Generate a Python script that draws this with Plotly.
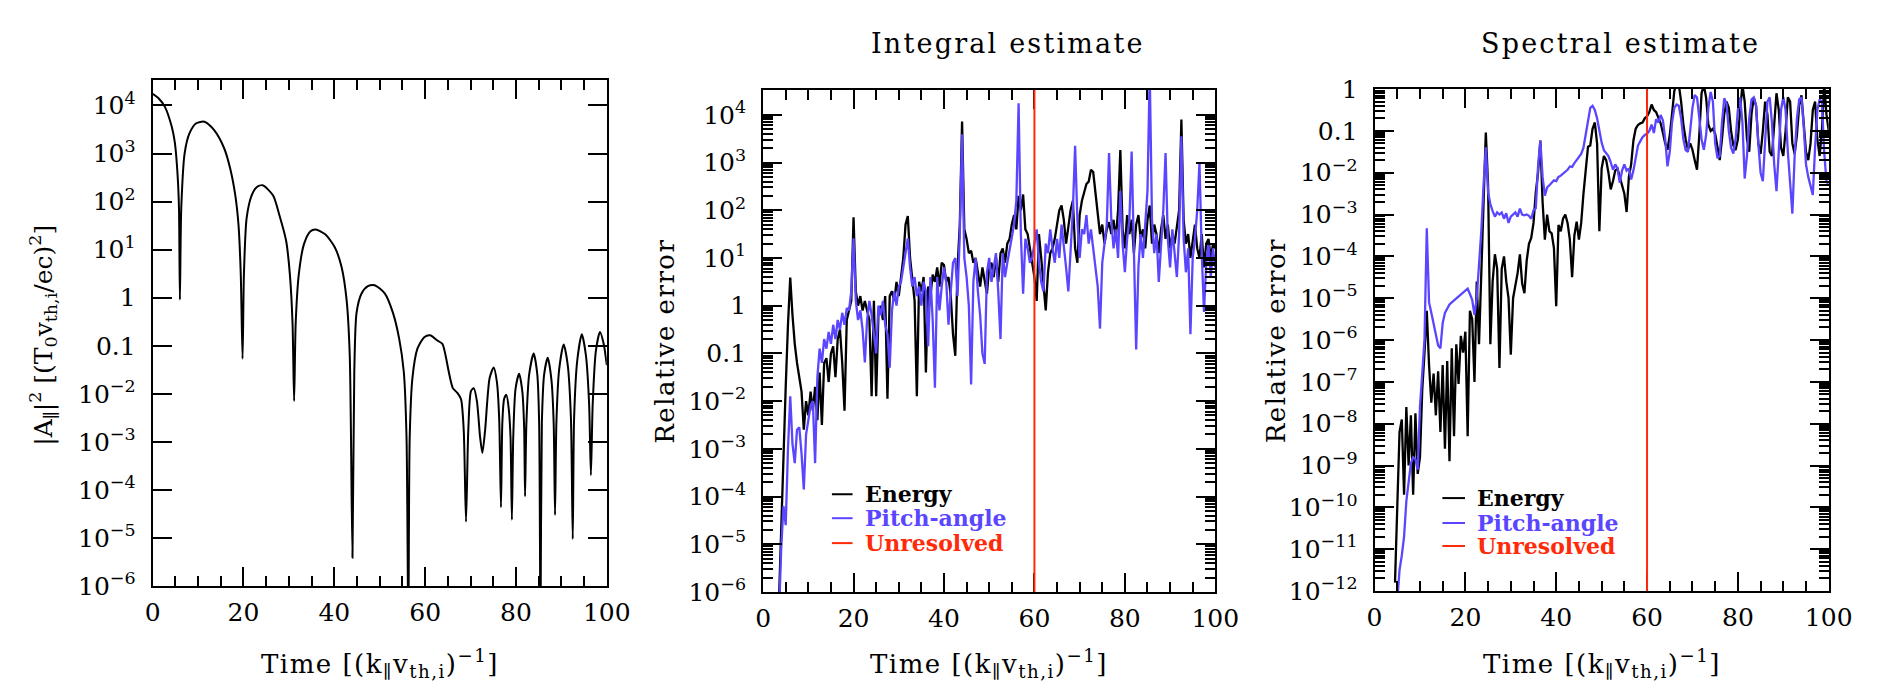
import plotly.graph_objects as go

W, H = 1886, 689
FONT = "DejaVu Serif"
BLUE = "#5a46ff"
RED = "#ff2a0a"

# ---------------------------------------------------------------
# left panel: |A_par|^2 against time (log10 of the value)
t_apar = [0.0, 1.3, 2.7, 4.2, 4.9, 5.5, 5.8, 6.0, 6.3, 7.05, 8.1, 9.6, 11.4,
          13.5, 15.7, 17.1, 18.2, 18.9, 19.4, 19.8, 20.1, 20.7, 21.8, 22.9, 24.2,
          26.5, 27.9, 29.4, 30.2, 30.8, 31.15, 31.5, 32.2, 33.3, 34.7, 35.9,
          38.0, 40.1, 41.6, 42.7, 43.4, 44.0, 44.4, 44.9, 46.0, 47.4, 48.9,
          51.1, 52.9, 54.3, 55.3, 55.9, 56.3, 56.6, 57.2, 58.3, 59.8, 61.1,
          62.7, 63.8, 64.5, 65.2, 66.1, 67.1, 67.9, 68.5, 69.0, 69.5, 70.1, 70.7,
          71.4, 72.1, 72.6, 73.2, 74.2, 75.1, 75.8, 76.3, 76.7, 77.0, 77.4, 77.9,
          78.4, 78.8, 79.1, 79.4, 79.9, 80.7, 81.4, 81.8, 82.0, 82.3, 82.9, 83.9,
          84.7, 85.1, 85.4, 85.7, 86.2, 87.0, 87.8, 88.3, 88.6, 88.9, 89.5, 90.5,
          91.4, 92.1, 92.5, 92.8, 93.5, 94.5, 95.4, 96.1, 96.5, 96.9, 97.6, 98.5,
          99.3, 100.0]
log_apar = [4.24, 4.15, 3.97, 3.56, 3.22, 2.54, 1.86, -0.04, 1.86, 3.01, 3.42, 3.63, 3.66,
            3.49, 3.12, 2.68, 2.13, 1.52, 0.5, -1.27, 0.5, 1.66, 2.13, 2.30, 2.34,
            2.13, 1.72, 1.18, 0.5, -0.52, -2.15, -0.52, 0.5, 1.11, 1.38, 1.42,
            1.32, 1.05, 0.64, -0.04, -1.2, -5.41, -1.54, -0.31, 0.09, 0.24, 0.26,
            0.09, -0.31, -0.86, -1.54, -2.9, -7.0, -2.9, -1.67, -1.06, -0.82, -0.78,
            -0.89, -0.96, -1.2, -1.54, -1.88, -1.98, -2.11, -2.76, -4.66, -2.76, -1.94, -1.88,
            -2.15, -2.9, -3.23, -2.76, -1.67, -1.45, -1.75, -2.5, -4.36, -2.6, -2.1, -2.02,
            -2.3, -2.9, -4.62, -2.9, -1.9, -1.58, -1.95, -2.7, -4.13, -2.6, -1.6, -1.16,
            -1.6, -2.6, -7.0, -2.6, -1.6, -1.25, -1.7, -2.6, -4.52, -2.6, -1.5, -0.97,
            -1.4, -2.5, -5.02, -2.5, -1.3, -0.76, -1.2, -2.2, -3.69, -2.2, -1.1, -0.71,
            -0.95, -1.4]

# ---------------------------------------------------------------
# middle panel: integral estimate of the relative error (log10)
t_int = [3.5, 4.0, 4.5, 5.0, 5.5, 6.0, 6.5, 7.0, 7.5, 8.0,
         8.5, 9.0, 9.5, 10.0, 10.5, 11.0, 11.5, 12.0, 12.5, 13.0,
         13.5, 14.0, 14.5, 15.0, 15.5, 16.0, 16.5, 17.0, 17.5, 18.0,
         18.5, 19.0, 19.5, 20.0, 20.5, 21.0, 21.5, 22.0, 22.5, 23.0,
         23.5, 24.0, 24.5, 25.0, 25.5, 26.0, 26.5, 27.0, 27.5, 28.0,
         28.5, 29.0, 29.5, 30.0, 30.5, 31.0, 31.5, 32.0, 32.5, 33.0,
         33.5, 34.0, 34.5, 35.0, 35.5, 36.0, 36.5, 37.0, 37.5, 38.0,
         38.5, 39.0, 39.5, 40.0, 40.5, 41.0, 41.5, 42.0, 42.5, 43.0,
         43.5, 44.0, 44.5, 45.0, 45.5, 46.0, 46.5, 47.0, 47.5, 48.0,
         48.5, 49.0, 49.5, 50.0, 50.5, 51.0, 51.5, 52.0, 52.5, 53.0,
         53.5, 54.0, 54.5, 55.0, 55.5, 56.0, 56.5, 57.0, 57.5, 58.0,
         58.5, 59.0, 59.5, 60.0, 60.5, 61.0, 61.5, 62.0, 62.5, 63.0,
         63.5, 64.0, 64.5, 65.0, 65.5, 66.0, 66.5, 67.0, 67.5, 68.0,
         68.5, 69.0, 69.5, 70.0, 70.5, 71.0, 71.5, 72.0, 72.5, 73.0,
         73.5, 74.0, 74.5, 75.0, 75.5, 76.0, 76.5, 77.0, 77.5, 78.0,
         78.5, 79.0, 79.5, 80.0, 80.5, 81.0, 81.5, 82.0, 82.5, 83.0,
         83.5, 84.0, 84.5, 85.0, 85.5, 86.0, 86.5, 87.0, 87.5, 88.0,
         88.5, 89.0, 89.5, 90.0, 90.5, 91.0, 91.5, 92.0, 92.5, 93.0,
         93.5, 94.0, 94.5, 95.0, 95.5, 96.0, 96.5, 97.0, 97.5, 98.0,
         98.5, 99.0, 99.5, 100.0]
log_int_energy = [-6.2, -4.6, -3.1, -1.7, -0.4, 0.59, -0.2, -0.8, -1.2, -1.5,
                  -1.8, -2.6, -2.0, -2.3, -1.8, -2.2, -1.7, -2.4, -1.4, -2.5,
                  -1.2, -1.1, -1.6, -1.0, -0.85, -1.5, -0.7, -0.5, -1.2, -2.2,
                  -0.3, -0.1, 0.1, 1.85, 0.3, 0.0, 0.2, -0.1, 0.1, -0.1,
                  -0.3, -1.9, 0.1, -1.9, -0.2, 0.0, -0.3, 0.2, -1.95, 0.2,
                  0.3, 0.1, 0.5, 0.2, 0.6, 1.0, 1.7, 1.88, 1.0, 0.6,
                  0.1, -1.9, 0.5, 0.3, 0.6, -1.4, 0.4, 0.2, 0.65, 0.5,
                  0.8, 0.4, 0.9, 0.85, 0.5, 0.6, 0.2, -0.6, -1.05, 0.8,
                  1.7, 3.86, 1.6, 1.4, 1.1, 1.15, 0.9, 1.0, 0.7, 0.4,
                  0.8, 0.5, 0.25, 0.8, 0.9, 0.6, 1.0, 0.5, 1.1, 1.2,
                  0.9, 1.3, 1.4, 1.7, 1.9, 1.6, 2.3, 2.0, 2.33, 1.6,
                  1.5, 1.2, 0.9, 0.6, 0.1, 1.5, 1.0, 0.5, -0.1, 0.7,
                  1.1, 1.2, 1.4, 1.7, 2.0, 2.1, 1.8, 1.3, 1.7, 2.0,
                  2.2, 1.2, 0.9, 1.9, 2.2, 2.4, 2.55, 2.6, 2.85, 2.8,
                  2.4, 1.9, 1.5, 1.7, 1.3, 1.6, 1.75, 1.5, 1.8, 1.4,
                  2.0, 3.26, 1.6, 1.2, 1.9, 1.5, 1.8, 1.1, 1.7, 1.9,
                  1.4, 1.6, 1.2, 1.8, 2.1, 1.3, 1.7, 1.5, 1.1, 1.6,
                  1.9, 1.4, 1.7, 1.2, 1.5, 1.3, 1.6, 2.0, 3.9, 1.8,
                  1.3, 1.5, 1.0, 1.4, 1.7, 1.2, 1.0, 1.5, 0.8, 1.3,
                  1.4, 1.0, 1.3, 1.2]
log_int_pitch = [-6.5, -5.1, -4.2, -4.6, -3.0, -1.9, -2.9, -3.3, -2.6, -2.55,
                 -3.1, -3.85, -2.7, -2.4, -2.1, -2.0, -3.3, -1.5, -0.9, -1.2,
                 -0.7, -0.9, -0.55, -0.8, -0.4, -0.7, -0.3, -0.5, -0.15, -0.4,
                 -0.05, -0.1, 0.3, 1.41, 0.1, -0.3, -0.1, -0.5, -1.19, -0.3,
                 0.1, -0.2, -0.6, -1.0, 0.0, -0.2, 0.1, -0.4, -0.6, -1.3,
                 -0.1, 0.3, 0.0, 0.4, 0.5, 0.8, 1.2, 1.41, 0.8, 0.4,
                 0.6, 0.2, 0.4, 0.0, 0.5, 0.3, -0.85, 0.6, -0.3, -1.72,
                 0.6, -0.1, 0.4, 0.8, 0.5, -0.4, 0.3, 0.9, 1.0, 0.2,
                 1.5, 3.59, 1.0, 0.6, 0.0, -1.65, 0.5, 1.0, 0.3, -0.2,
                 -1.0, -1.22, 0.7, 1.0, 0.5, 0.8, 1.1, 0.3, -0.7, 1.1,
                 0.6, 0.9, 1.2, 1.5, 1.7, 2.2, 4.24, 1.5, 0.25, 1.4,
                 1.2, 0.9, 1.0, 1.3, 1.6, 0.9, 0.5, 0.3, 1.3, 1.1,
                 1.6, 1.2, 0.9, 1.4, 1.0, 1.7, 1.3, 0.8, 0.3, 1.2,
                 2.0, 3.35, 1.8, 1.0, 1.6, 1.5, 1.9, 1.3, 1.6, 1.2,
                 0.8, 0.4, -0.48, 0.9, 1.3, 1.7, 3.2, 1.8, 1.2, 1.6,
                 1.0, 2.4, 1.3, 0.7, 1.4, 1.8, 3.23, 1.2, -0.92, 0.8,
                 1.5, 1.0, 1.8, 2.4, 4.9, 1.8, 1.1, 1.5, 0.5, 1.3,
                 2.0, 3.2, 1.4, 0.8, 1.6, 1.1, 0.6, 1.5, 3.55, 1.4,
                 0.7, 1.2, -0.6, 1.0, 1.4, 2.0, 3.0, 1.1, -0.13, 0.9,
                 1.3, 0.6, 1.2, 0.8]

# ---------------------------------------------------------------
# right panel: spectral estimate of the relative error (log10)
t_spec = [4.5, 5.0, 5.5, 6.0, 6.5, 7.0, 7.5, 8.0, 8.5, 9.0,
          9.5, 10.0, 10.5, 11.0, 11.5, 12.0, 12.5, 13.0, 13.5, 14.0,
          14.5, 15.0, 15.5, 16.0, 16.5, 17.0, 17.5, 18.0, 18.5, 19.0,
          19.5, 20.0, 20.5, 21.0, 21.5, 22.0, 22.5, 23.0, 23.5, 24.0,
          24.5, 25.0, 25.5, 26.0, 26.5, 27.0, 27.5, 28.0, 28.5, 29.0,
          29.5, 30.0, 30.5, 31.0, 31.5, 32.0, 32.5, 33.0, 33.5, 34.0,
          34.5, 35.0, 35.5, 36.0, 36.5, 37.0, 37.5, 38.0, 38.5, 39.0,
          39.5, 40.0, 40.5, 41.0, 41.5, 42.0, 42.5, 43.0, 43.5, 44.0,
          44.5, 45.0, 45.5, 46.0, 46.5, 47.0, 47.5, 48.0, 48.5, 49.0,
          49.5, 50.0, 50.5, 51.0, 51.5, 52.0, 52.5, 53.0, 53.5, 54.0,
          54.5, 55.0, 55.5, 56.0, 56.5, 57.0, 57.5, 58.0, 58.5, 59.0,
          59.5, 60.0, 60.5, 61.0, 61.5, 62.0, 62.5, 63.0, 63.5, 64.0,
          64.5, 65.0, 65.5, 66.0, 66.5, 67.0, 67.5, 68.0, 68.5, 69.0,
          69.5, 70.0, 70.5, 71.0, 71.5, 72.0, 72.5, 73.0, 73.5, 74.0,
          74.5, 75.0, 75.5, 76.0, 76.5, 77.0, 77.5, 78.0, 78.5, 79.0,
          79.5, 80.0, 80.5, 81.0, 81.5, 82.0, 82.5, 83.0, 83.5, 84.0,
          84.5, 85.0, 85.5, 86.0, 86.5, 87.0, 87.5, 88.0, 88.5, 89.0,
          89.5, 90.0, 90.5, 91.0, 91.5, 92.0, 92.5, 93.0, 93.5, 94.0,
          94.5, 95.0, 95.5, 96.0, 96.5, 97.0, 97.5, 98.0, 98.5, 99.0,
          99.5, 100.0]
log_spec_energy = [-11.8, -9.9, -8.2, -7.9, -9.7, -7.6, -9.0, -7.8, -9.7, -7.75,
                   -9.2, -8.8, -7.2, -6.3, -5.3, -6.6, -7.5, -6.8, -7.8, -6.75,
                   -8.2, -6.6, -8.6, -6.5, -8.9, -6.2, -8.3, -6.1, -7.05, -5.9,
                   -6.3, -5.8, -8.3, -5.3, -5.5, -7.0, -4.6, -6.1, -4.4, -2.9,
                   -1.04, -2.3, -6.1, -4.6, -3.95, -4.3, -6.67, -4.3, -4.0, -4.6,
                   -5.0, -6.35, -5.0, -4.7, -4.4, -3.95, -4.65, -4.88, -4.1, -3.7,
                   -3.56, -3.2, -2.47, -2.0, -1.23, -2.7, -3.6, -3.0, -3.4, -3.45,
                   -3.8, -5.19, -3.25, -3.4, -3.1, -3.0, -3.2, -3.6, -4.5, -3.5,
                   -3.17, -3.6, -3.2, -2.5, -1.85, -1.38, -1.35, -0.95, -0.8, -1.3,
                   -3.4, -1.9, -1.6, -1.7, -2.0, -2.4, -2.2, -1.95, -1.9, -2.1,
                   -2.3, -2.5, -2.94, -2.1, -1.8, -1.23, -0.95, -0.86, -0.82, -0.8,
                   -0.7, -0.65, -0.55, -0.37, -0.5, -0.55, -0.69, -0.82, -1.05, -1.3,
                   -1.45, -1.1, -0.6, -0.05, 0.15, 0.1, -0.3, -0.85, -1.2, -1.45,
                   -1.3, -1.45, -1.7, -1.93, -1.1, -0.1, 0.1, -0.2, -0.85, -1.0,
                   -0.95, -1.07, -1.38, -1.7, -1.2, -0.6, -0.3, -0.45, -1.0, -1.35,
                   -1.46, -1.2, -0.5, 0.1, -0.3, -1.2, -1.5, -0.6, -0.2, -0.4,
                   -1.3, -1.55, -1.0, -0.3, -0.6, -1.5, -1.6, -0.8, -0.1, -0.5,
                   -1.4, -1.6, -1.0, -0.2, -0.3, -1.3, -1.55, -1.1, -0.4, -0.15,
                   -0.8, -1.5, -1.7, -1.3, -0.5, -0.3, -1.2, -1.6, -1.0, 0.1,
                   -0.6, -1.0]
log_spec_pitch = [-13.0, -12.3, -11.5, -11.15, -10.7, -9.85, -9.4, -8.95, -8.8, -8.85,
                  -9.1, -7.6, -6.8, -5.97, -3.33, -5.1, -5.35, -5.6, -5.85, -6.13,
                  -6.2, -5.6, -5.35, -5.25, -5.15, -5.1, -5.05, -5.0, -4.95, -4.9,
                  -4.85, -4.8, -4.77, -4.9, -5.04, -5.4, -5.0, -4.2, -3.4, -2.3,
                  -1.39, -2.47, -2.75, -2.92, -3.05, -2.95, -3.0, -2.95, -3.1, -2.97,
                  -3.2, -3.05, -3.0, -2.95, -3.05, -2.86, -3.0, -3.02, -3.0, -3.03,
                  -3.1, -2.9, -2.85, -1.85, -1.23, -2.1, -2.55, -2.35, -2.3, -2.25,
                  -2.18, -2.2, -2.1, -2.07, -2.02, -1.98, -1.93, -1.85, -1.86, -1.77,
                  -1.7, -1.63, -1.55, -1.4, -1.1, -0.8, -0.45, -0.4, -0.5, -0.7,
                  -1.0, -1.28, -1.46, -1.54, -1.6, -1.75, -1.93, -1.8, -1.9, -2.24,
                  -1.95, -1.8, -1.95, -1.9, -2.16, -1.95, -1.6, -1.35, -1.25, -1.15,
                  -1.1, -1.07, -1.0, -0.85, -1.05, -0.72, -0.8, -0.62, -0.75, -1.2,
                  -1.85, -1.5, -0.8, -0.45, -0.37, -0.4, -0.7, -1.2, -1.46, -1.5,
                  -1.0, -0.45, -0.14, -0.2, -0.69, -1.2, -1.45, -1.1, -0.45, -0.07,
                  -0.3, -1.3, -1.65, -1.6, -0.8, -0.22, -0.35, -1.0, -1.4, -1.54,
                  -1.2, -0.5, -0.2, -0.8, -2.14, -1.6, -0.7, -0.25, -0.2, -0.4,
                  -1.3, -2.0, -2.2, -1.2, -0.3, -0.2, -0.8, -1.8, -2.44, -1.5,
                  -0.5, -0.19, -0.5, -1.5, -2.3, -2.98, -1.6, -0.7, -0.25, -0.2,
                  -0.9, -1.8, -2.1, -2.3, -2.53, -1.4, -0.5, -0.25, -0.3, -1.5,
                  -2.2, -2.3]

unresolved_t = 60

# tick labels
def power_label(e):
    if e == 0:
        return "1"
    if e == -1:
        return "0.1"
    return "10<sup>%s</sup>" % str(e).replace("-", "\u2212")

exp_int = list(range(-6, 5))
exp_spec = list(range(-12, 1))


def px_x(x):
    return x / W


def px_y(y):
    return 1 - y / H


def spaced(txt, sp):
    # widen the lettering a little, like the plotting-package font of the original
    return "<span style='letter-spacing:%gpx'>%s</span>" % (sp, txt)


tick_font = dict(family=FONT, size=25, color="black")


def time_axis(domain, anchor):
    return dict(domain=domain, anchor=anchor, range=[0, 100],
                tickmode="array", tickvals=[0, 20, 40, 60, 80, 100],
                ticks="inside", ticklen=19, tickwidth=2, tickcolor="black",
                minor=dict(tickmode="linear", tick0=0, dtick=5, ticks="inside",
                           ticklen=10, tickwidth=2, tickcolor="black", showgrid=False),
                mirror="allticks", showline=True, linewidth=2, linecolor="black",
                showgrid=False, zeroline=False, tickfont=tick_font,
                ticklabelstandoff=3)


def log_axis(domain, anchor, exps, top, minor=True):
    ax = dict(domain=domain, anchor=anchor, type="log", range=[exps[0], top],
              tickmode="array", tickvals=[10.0 ** e for e in exps],
              ticktext=[power_label(e) for e in exps],
              ticks="inside", ticklen=19, tickwidth=2, tickcolor="black",
              mirror="allticks", showline=True, linewidth=2, linecolor="black",
              showgrid=False, zeroline=False, tickfont=tick_font,
              ticklabelstandoff=10)
    if minor:
        ax["minor"] = dict(tickmode="array",
                           tickvals=[m * 10.0 ** e for e in exps[:-1] for m in range(2, 10)],
                           ticks="inside", ticklen=10, tickwidth=1.5,
                           tickcolor="black", showgrid=False)
    return ax


fig = go.Figure()

fig.add_trace(go.Scatter(x=t_apar, y=[10 ** v for v in log_apar], mode="lines",
                         line=dict(color="black", width=2, shape="spline", smoothing=0.7),
                         xaxis="x", yaxis="y", showlegend=False))

fig.add_trace(go.Scatter(x=t_int, y=[10 ** v for v in log_int_energy], mode="lines",
                         line=dict(color="black", width=2.3), xaxis="x2", yaxis="y2",
                         showlegend=False))
fig.add_trace(go.Scatter(x=t_int, y=[10 ** v for v in log_int_pitch], mode="lines",
                         line=dict(color=BLUE, width=2.3), xaxis="x2", yaxis="y2",
                         showlegend=False))

fig.add_trace(go.Scatter(x=t_spec, y=[10 ** v for v in log_spec_energy], mode="lines",
                         line=dict(color="black", width=2.3), xaxis="x3", yaxis="y3",
                         showlegend=False))
fig.add_trace(go.Scatter(x=t_spec, y=[10 ** v for v in log_spec_pitch], mode="lines",
                         line=dict(color=BLUE, width=2.3), xaxis="x3", yaxis="y3",
                         showlegend=False))

# panel frames in pixels: (left, right, top, bottom)
p1 = (139, 601, 61, 589)
p2 = (760, 1220, 71, 595)
p3 = (1382, 1844, 70, 594)


def xdom(p):
    return [px_x(p[0]), px_x(p[1])]


def ydom(p):
    return [px_y(p[3]), px_y(p[2])]


fig.update_layout(
    width=W, height=H,
    margin=dict(l=0, r=0, t=0, b=0),
    paper_bgcolor="white", plot_bgcolor="white",
    font=dict(family=FONT, color="black"),
    xaxis=time_axis(xdom(p1), "y"),
    yaxis=log_axis(ydom(p1), "x", exp_int, 4.52, minor=False),
    xaxis2=time_axis(xdom(p2), "y2"),
    yaxis2=log_axis(ydom(p2), "x2", exp_int, 4.52),
    xaxis3=time_axis(xdom(p3), "y3"),
    yaxis3=log_axis(ydom(p3), "x3", exp_spec, 0),
)

shapes = []
for xr, yr in (("x2", "y2 domain"), ("x3", "y3 domain")):
    shapes.append(dict(type="line", xref=xr, yref=yr, x0=unresolved_t, x1=unresolved_t,
                       y0=0, y1=1, line=dict(color=RED, width=2), layer="above"))

annotations = []
time_title = spaced("Time [(k<sub>\u2225</sub>v<sub>th,i</sub>)<sup>\u22121</sup>]", 1.5)
for p in (p1, p2, p3):
    annotations.append(dict(text=time_title, xref="paper", yref="paper",
                            x=px_x((p[0] + p[1]) / 2), y=px_y(670),
                            xanchor="center", yanchor="middle", showarrow=False,
                            font=dict(family=FONT, size=26, color="black")))

annotations.append(dict(text="|A<sub>\u2225</sub>|<sup>2</sup> [(T<sub>0</sub>v<sub>th,i</sub>/ec)<sup>2</sup>]",
                        xref="paper", yref="paper", x=px_x(28), y=px_y(327),
                        xanchor="center", yanchor="middle", textangle=-90,
                        showarrow=False, font=dict(family=FONT, size=25, color="black")))
for xc in (660, 1282):
    annotations.append(dict(text=spaced("Relative error", 1.5), xref="paper", yref="paper",
                            x=px_x(xc), y=px_y(333), xanchor="center", yanchor="middle",
                            textangle=-90, showarrow=False,
                            font=dict(family=FONT, size=26, color="black")))

for txt, xc in (("Integral estimate", 1009), ("Spectral estimate", 1632)):
    annotations.append(dict(text=spaced(txt, 2.2), xref="paper", yref="paper",
                            x=px_x(xc), y=px_y(22),
                            xanchor="center", yanchor="middle", showarrow=False,
                            font=dict(family=FONT, size=27, color="black")))

# hand-drawn legends (line sample + coloured label)
legend_items = [("Energy", "black"), ("Pitch-angle", BLUE), ("Unresolved", RED)]
for x0, x1, xt, rows in ((830, 851, 862, (493, 518, 544)),
                         (1451, 1474, 1484, (497, 523, 547))):
    for (label, col), yr in zip(legend_items, rows):
        shapes.append(dict(type="line", xref="paper", yref="paper",
                           x0=px_x(x0), x1=px_x(x1), y0=px_y(yr), y1=px_y(yr),
                           line=dict(color=col, width=2)))
        annotations.append(dict(text="<b>%s</b>" % label, xref="paper", yref="paper",
                                x=px_x(xt), y=px_y(yr), xanchor="left", yanchor="middle",
                                showarrow=False, font=dict(family=FONT, size=22, color=col)))

fig.update_layout(shapes=shapes, annotations=annotations)

fig.write_html("out.html")
